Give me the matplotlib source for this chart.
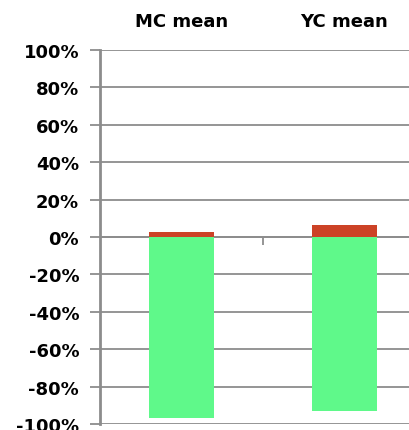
import matplotlib.pyplot as plt
import matplotlib.transforms as mtransforms
import numpy as np

# categories and stacked values (fractions)
categories = ['MC mean', 'YC mean']
green_vals = [-0.97, -0.93]
red_vals = [0.025, 0.063]
tick_vals = [1.0, 0.8, 0.6, 0.4, 0.2, 0.0, -0.2, -0.4, -0.6, -0.8, -1.0]
tick_labels = ['100%', '80%', '60%', '40%', '20%', '0%', '-20%', '-40%', '-60%', '-80%', '-100%']

fig = plt.figure(figsize=(4.09, 4.31), dpi=100)
# axes run past the right edge, like the cropped original
ax = fig.add_axes([100 / 409, 6 / 431, 326 / 409, 374 / 431])

x = np.arange(len(categories))
ax.bar(x, green_vals, width=0.4, color='#5FF98A', zorder=3)
ax.bar(x, red_vals, width=0.4, color='#CC4226', zorder=3)

ax.set_xlim(-0.5, 1.5)
ax.set_ylim(-1.0, 1.0)
ax.set_yticks(tick_vals)
ax.set_yticklabels(tick_labels, fontsize=13, fontweight='bold')
ax.yaxis.grid(True, color='#8c8c8c', linewidth=1.3, zorder=0)
ax.tick_params(axis='y', length=7, width=1.3, color='#8c8c8c', pad=8)

# category axis sits on the zero line
for s in ['top', 'right']:
    ax.spines[s].set_visible(False)
ax.spines['left'].set_color('#8c8c8c')
ax.spines['left'].set_linewidth(2)
ax.spines['bottom'].set_position(('data', 0))
ax.spines['bottom'].set_color('#8c8c8c')
ax.spines['bottom'].set_linewidth(1.3)
ax.set_xticks([0.5])
ax.set_xticklabels([''])
ax.tick_params(axis='x', length=6, width=1.3, color='#8c8c8c', direction='out')

# category labels on top
trans = mtransforms.blended_transform_factory(ax.transData, fig.transFigure)
for i, c in enumerate(categories):
    ax.text(x[i], 1 - 22 / 431, c, transform=trans, ha='center', va='center',
            fontsize=13, fontweight='bold')

fig.savefig('out.png', dpi=100)
